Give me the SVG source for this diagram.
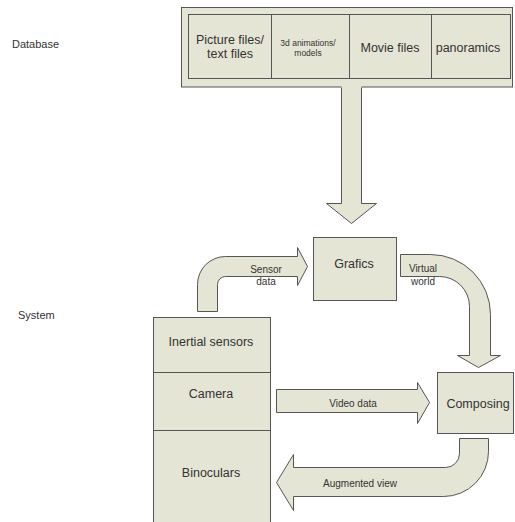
<svg xmlns="http://www.w3.org/2000/svg" width="515" height="522" viewBox="0 0 515 522">
<style>
.box{fill:#e5e5d5;stroke:#555;stroke-width:1}
.nf{fill:#e5e5d5;stroke:none}
.ln{fill:none;stroke:#555;stroke-width:1}
text{font-family:"Liberation Sans",Arial,sans-serif;fill:#333;text-anchor:middle}
.l{font-size:12.5px}
.s{font-size:10px}
.xs{font-size:8.5px}
.lab{font-size:11px;text-anchor:start}
</style>
<rect width="515" height="522" fill="#fff"/>
<text class="lab" x="12" y="48">Database</text>
<text class="lab" x="18" y="319">System</text>
<g id="database">
<rect class="box" x="181.5" y="7.5" width="331" height="79.5"/>
<rect class="box" x="188.5" y="14.5" width="322" height="64"/>
<line class="ln" x1="271.5" y1="14.5" x2="271.5" y2="78.5"/>
<line class="ln" x1="349.5" y1="14.5" x2="349.5" y2="78.5"/>
<line class="ln" x1="431.5" y1="14.5" x2="431.5" y2="78.5"/>
<text class="l" x="230" y="43.5">Picture files/</text>
<text class="l" x="230" y="57.5">text files</text>
<text class="xs" x="308" y="46">3d animations/</text>
<text class="xs" x="308" y="56">models</text>
<text class="l" x="390" y="51.5">Movie files</text>
<text class="l" x="468" y="51.5">panoramics</text>
</g>
<g id="grafics">
<rect class="box" x="313.5" y="237.5" width="83" height="63"/>
<text class="l" x="354" y="267.5">Grafics</text>
</g>
<g id="device">
<rect class="box" x="153.5" y="317.5" width="117" height="210"/>
<line class="ln" x1="153.5" y1="372.5" x2="270.5" y2="372.5"/>
<line class="ln" x1="153.5" y1="430.5" x2="270.5" y2="430.5"/>
<text class="l" x="211" y="346">Inertial sensors</text>
<text class="l" x="211" y="397.5">Camera</text>
<text class="l" x="211" y="476.5">Binoculars</text>
</g>
<g id="composing">
<rect class="box" x="437.5" y="372.5" width="76" height="61"/>
<text class="l" x="478" y="407.5">Composing</text>
</g>
<g id="connectors">
<path class="nf" d="M341.5,86 L341.5,203.5 L326.5,203.5 L351.5,223.5 L376.5,203.5 L361.5,203.5 L361.5,86 Z"/>
<path class="ln" d="M341.5,87.5 L341.5,203.5 L326.5,203.5 L351.5,223.5 L376.5,203.5 L361.5,203.5 L361.5,87.5"/>
<path class="box" d="M197.5,311.5 L197.5,284.5 A28,28 0 0 1 225.5,256.5 L297.5,256.5 L297.5,247.5 L307.5,266.5 L297.5,285.5 L297.5,276.5 L225.5,276.5 A8,8 0 0 0 217.5,284.5 L217.5,311.5 Z"/>
<text class="s" x="266" y="272.5">Sensor</text>
<text class="s" x="266" y="284.5">data</text>
<path class="box" d="M400.5,254.5 L430.5,254.5 A60,60 0 0 1 490.5,314.5 L490.5,355.5 L500.5,355.5 L478.5,367.5 L457.5,355.5 L469.5,355.5 L469.5,306.5 A30,30 0 0 0 439.5,276.5 L400.5,276.5 Z"/>
<text class="s" x="423" y="272">Virtual</text>
<text class="s" x="423" y="285">world</text>
<path class="box" d="M276.5,389.5 L417.5,389.5 L417.5,382.5 L429.5,402.5 L417.5,423.5 L417.5,412.5 L276.5,412.5 Z"/>
<text class="s" x="353" y="406.5">Video data</text>
<path class="box" d="M459.5,438.5 L459.5,453.5 A14,14 0 0 1 445.5,467.5 L293.5,467.5 L293.5,454.5 L276.5,482.5 L293.5,510.5 L293.5,496.5 L443.5,496.5 A45,45 0 0 0 488.5,451.5 L488.5,438.5 Z"/>
<text class="s" x="360" y="486.5">Augmented view</text>
</g>
</svg>
